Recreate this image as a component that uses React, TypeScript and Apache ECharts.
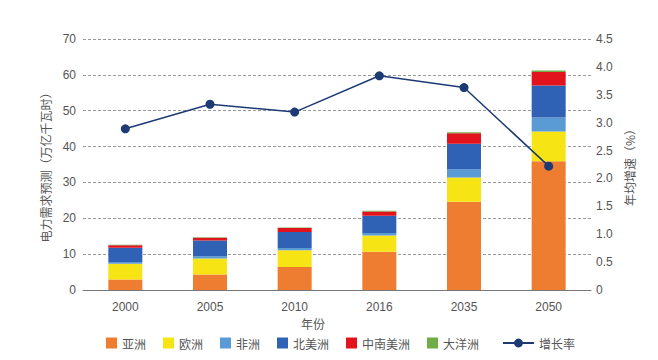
import React, { useEffect, useRef } from "react";
import * as echarts from "echarts";

const years = ["2000", "2005", "2010", "2016", "2035", "2050"];
const asia = [2.9, 4.3, 6.4, 10.7, 24.6, 35.9];
const europe = [4.4, 4.5, 4.7, 4.5, 6.8, 8.3];
const africa = [0.5, 0.6, 0.6, 0.7, 2.2, 3.9];
const northAmerica = [4.0, 4.4, 4.5, 4.8, 7.2, 8.9];
const latinAmerica = [0.7, 0.8, 1.1, 1.2, 2.9, 3.8];
const oceania = [0.1, 0.1, 0.1, 0.2, 0.3, 0.45];
const growthRate = [2.89, 3.33, 3.19, 3.84, 3.63, 2.22];

const leftTicks = { min: 0, max: 70, interval: 10 };
const rightTicks = { min: 0, max: 4.5, interval: 0.5 };

const FONT = "'Liberation Sans', 'Noto Sans CJK SC', sans-serif";
const CJK = "'Noto Sans CJK SC', sans-serif";

export default function App() {
  const ref = useRef<HTMLDivElement>(null);
  useEffect(() => {
    if (!ref.current) return;
    const chart = echarts.init(ref.current, null, { renderer: "svg" });
    const barSeries = (name: string, data: number[], color: string) => ({
      name,
      type: "bar",
      stack: "total",
      data,
      barWidth: 34,
      itemStyle: { color },
      yAxisIndex: 0,
    });
    chart.setOption({
      animation: false,
      backgroundColor: "#ffffff",
      textStyle: { fontFamily: FONT },
      grid: { left: 83, right: 67, top: 39, bottom: 70, containLabel: false },
      legend: [
        {
          data: ["亚洲", "欧洲", "非洲", "北美洲", "中南美洲", "大洋洲"],
          left: 101,
          top: 332,
          itemWidth: 11,
          itemHeight: 11,
          itemGap: 17,
          icon: "rect",
          textStyle: { fontFamily: CJK, fontSize: 12, color: "#555" },
        },
        {
          data: ["增长率"],
          left: 497,
          top: 332,
          itemWidth: 31,
          itemHeight: 11,
          textStyle: { fontFamily: CJK, fontSize: 12, color: "#555" },
        },
      ],
      xAxis: {
        type: "category",
        data: years,
        name: "年份",
        nameLocation: "middle",
        nameGap: 27,
        nameTextStyle: { fontFamily: CJK, fontSize: 12, color: "#555", padding: [0, 48, 0, 0] },
        axisLine: { lineStyle: { color: "#777", width: 1 } },
        axisTick: { inside: true, length: 5, lineStyle: { color: "#777" } },
        axisLabel: { color: "#555", fontSize: 12, margin: 11 },
      },
      yAxis: [
        {
          type: "value",
          ...leftTicks,
          name: "电力需求预测（万亿千瓦时）",
          nameLocation: "middle",
          nameGap: 21,
          nameTextStyle: { fontFamily: CJK, fontSize: 12, color: "#555" },
          axisLine: { show: false },
          axisTick: { show: false },
          axisLabel: { color: "#555", fontSize: 12, margin: 7 },
          splitLine: { lineStyle: { type: [3, 2], color: "#999", width: 1 } },
        },
        {
          type: "value",
          ...rightTicks,
          name: "年均增速（%）",
          nameLocation: "middle",
          nameGap: 29,
          nameTextStyle: { fontFamily: CJK, fontSize: 12, color: "#555" },
          axisLine: { show: false },
          axisTick: { show: false },
          axisLabel: {
            color: "#555",
            fontSize: 12,
            margin: 5,
            formatter: (v: number) => (v === 0 ? "0" : v.toFixed(1)),
          },
          splitLine: { show: false },
        },
      ],
      series: [
        barSeries("亚洲", asia, "#EE7D31"),
        barSeries("欧洲", europe, "#F7E414"),
        barSeries("非洲", africa, "#5B9BD5"),
        barSeries("北美洲", northAmerica, "#2F62B4"),
        barSeries("中南美洲", latinAmerica, "#E2131C"),
        barSeries("大洋洲", oceania, "#70AD47"),
        {
          name: "增长率",
          type: "line",
          yAxisIndex: 1,
          data: growthRate,
          symbol: "circle",
          symbolSize: 9,
          lineStyle: { color: "#1E3A74", width: 1.5 },
          itemStyle: { color: "#1E3A74" },
        },
      ],
    });
    return () => chart.dispose();
  }, []);
  return (
    <div
      ref={ref}
      style={{ position: "fixed", left: 0, top: 0, width: 658, height: 360 }}
    />
  );
}
